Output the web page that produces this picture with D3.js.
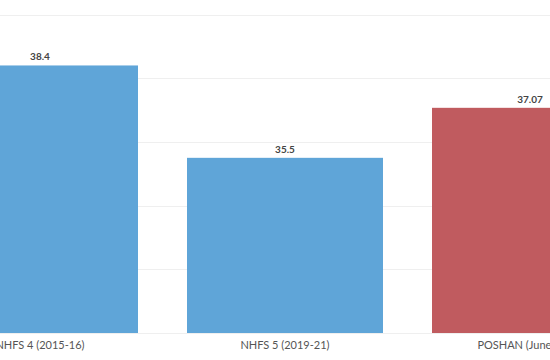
<!DOCTYPE html>
<html>
<head>
<meta charset="utf-8">
<script src="https://cdn.jsdelivr.net/npm/d3@7"></script>
<style>
  html, body { margin: 0; padding: 0; background: #fff; overflow: hidden; }
  svg { display: block; }
</style>
</head>
<body>
<svg id="chart" width="550" height="360"></svg>
<script>
const categories = ["NHFS 4 (2015-16)", "NHFS 5 (2019-21)", "POSHAN (June 2023)"];
const values = [38.4, 35.5, 37.07];
const valueLabels = ["38.4", "35.5", "37.07"];
const barColors = ["#5fa5d8", "#5fa5d8", "#c05b5f"];
const yTicks = [30, 32, 34, 36, 38, 40];

const svg = d3.select("#chart");
const x = d3.scaleBand().domain(categories).range([-82.5, 652.5]).paddingInner(0.2).paddingOuter(0.1);
const y = d3.scaleLinear().domain([30, 40]).range([333, 14.5]);

svg.append("g").selectAll("line").data(yTicks).join("line")
  .attr("x1", 0).attr("x2", 550)
  .attr("y1", d => Math.round(y(d)) + 0.5).attr("y2", d => Math.round(y(d)) + 0.5)
  .attr("stroke", "#efefef").attr("stroke-width", 1);

const data = categories.map((c, i) => ({c, v: values[i], label: valueLabels[i], color: barColors[i]}));

svg.append("g").selectAll("rect").data(data).join("rect")
  .attr("x", d => x(d.c)).attr("width", x.bandwidth())
  .attr("y", d => y(d.v)).attr("height", d => y(30) - y(d.v))
  .attr("fill", d => d.color);

svg.append("g").selectAll("text").data(data).join("text")
  .attr("x", d => x(d.c) + x.bandwidth() / 2)
  .attr("y", d => y(d.v) - 5)
  .attr("text-anchor", "middle")
  .attr("font-family", "Lato, 'Libre Franklin', sans-serif")
  .attr("font-weight", "bold")
  .attr("font-size", 10)
  .attr("fill", "#444")
  .text(d => d.label);

svg.append("g").selectAll("text").data(data).join("text")
  .attr("x", d => x(d.c) + x.bandwidth() / 2)
  .attr("y", 349)
  .attr("text-anchor", "middle")
  .attr("font-family", "Lato, 'Libre Franklin', sans-serif")
  .attr("font-size", 11)
  .attr("fill", "#555")
  .text(d => d.c);
</script>
</body>
</html>
